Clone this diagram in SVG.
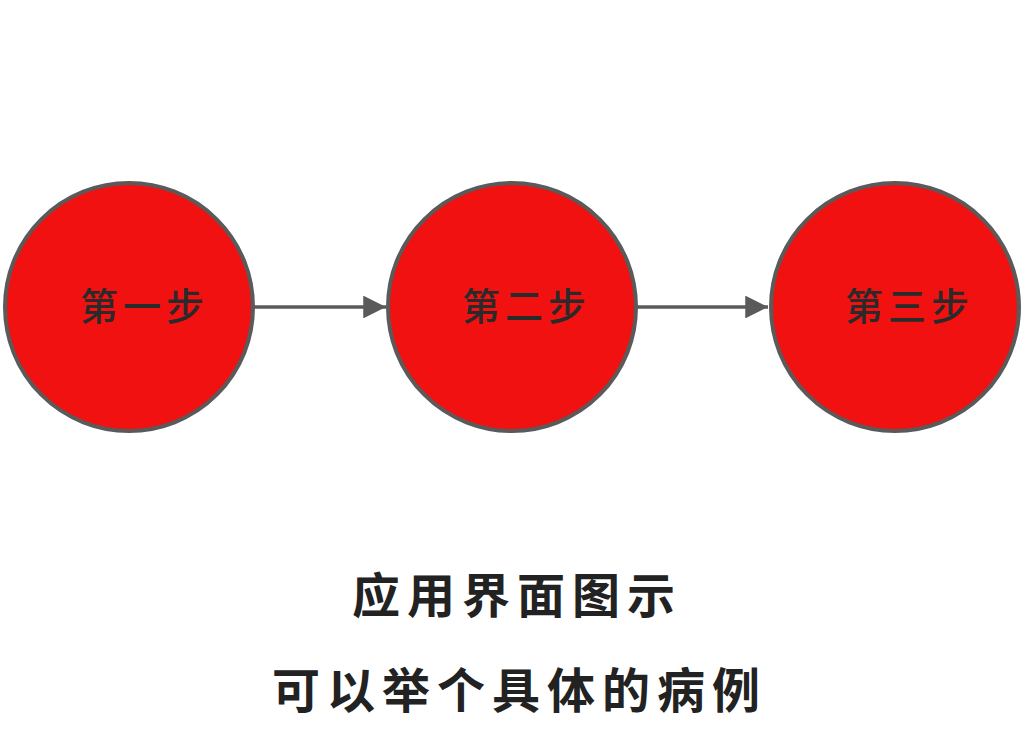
<svg xmlns="http://www.w3.org/2000/svg" width="1025" height="750" viewBox="0 0 1025 750">
<style>
.node{fill:#f11111;stroke:#5a5a5a;stroke-width:4}
.lbl{font-family:"Noto Sans CJK SC","Noto Sans",sans-serif;font-size:38px;font-weight:500;fill:#2a2a2a;letter-spacing:5px}
.cap{font-family:"Noto Sans CJK SC","Noto Sans",sans-serif;font-size:48px;font-weight:700;fill:#222;letter-spacing:7px}
.edge{stroke:#5a5a5a;stroke-width:3.5;fill:none}
</style>
<defs>
<marker id="arr" viewBox="0 0 10 10" refX="10" refY="5" markerWidth="6.5" markerHeight="6.5" orient="auto" markerUnits="strokeWidth">
<path d="M0,0 L10,5 L0,10 z" fill="#5a5a5a"/>
</marker>
</defs>
<rect width="1025" height="750" fill="#fff"/>
<g id="connectors">
<line class="edge" x1="253" y1="307" x2="386" y2="307" marker-end="url(#arr)"/>
<line class="edge" x1="636" y1="307" x2="768" y2="307" marker-end="url(#arr)"/>
</g>
<g id="node1">
<circle class="node" cx="129" cy="307" r="124"/>
<text class="lbl" x="80" y="320">第一步</text>
</g>
<g id="node2">
<circle class="node" cx="512" cy="307" r="124"/>
<text class="lbl" x="462" y="320">第二步</text>
</g>
<g id="node3">
<circle class="node" cx="895" cy="307" r="124"/>
<text class="lbl" x="845" y="320">第三步</text>
</g>
<g id="caption">
<text class="cap" x="352" y="613">应用界面图示</text>
<text class="cap" x="272" y="708">可以举个具体的病例</text>
</g>
</svg>
